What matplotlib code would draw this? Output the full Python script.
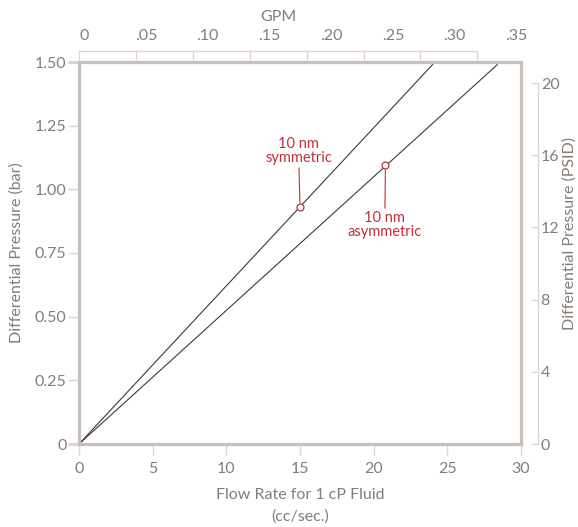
import matplotlib
matplotlib.use("Agg")
import matplotlib.pyplot as plt

plt.rcParams['font.family'] = ['Lato', 'DejaVu Sans']

# values
flow_sym = [0, 24.0]          # cc/sec
dp_sym = [0, 1.49]            # bar
flow_asym = [0, 28.4]
dp_asym = [0, 1.49]
sym_point = (15.0, 0.932)
asym_point = (20.8, 1.095)

bar_ticks = [0, 0.25, 0.50, 0.75, 1.00, 1.25, 1.50]
bar_labels = ['0', '0.25', '0.50', '0.75', '1.00', '1.25', '1.50']
flow_ticks = [0, 5, 10, 15, 20, 25, 30]
psi_ticks = [0, 4, 8, 12, 16, 20]
gpm_ticks = [0, 0.05, 0.10, 0.15, 0.20, 0.25, 0.30, 0.35]
gpm_labels = ['0', '.05', '.10', '.15', '.20', '.25', '.30', '.35']

TXT = '#857c76'
FRAME = '#c9bfb8'
LIGHT = '#dcd5cf'
RED = '#c4303a'
W, H = 578, 527

fig = plt.figure(figsize=(W / 100, H / 100), dpi=100)
ax = fig.add_axes([79 / W, 1 - 444 / H, 442 / W, 382 / H])
ax.set_xlim(0, 30)
ax.set_ylim(0, 1.5)
for s in ax.spines.values():
    s.set_color(FRAME)
    s.set_linewidth(2.3)

ax.set_xticks(flow_ticks)
ax.tick_params(axis='both', color=LIGHT, labelcolor=TXT, labelsize=11.5,
               length=8, width=1, direction='out')
ax.tick_params(axis='y', pad=1)
ax.tick_params(axis='x', pad=5)
ax.set_xlabel('Flow Rate for 1 cP Fluid\n(cc/sec.)', color=TXT, fontsize=11.5,
              linespacing=1.65, labelpad=8.5)
ax.set_ylabel('Differential Pressure (bar)', color=TXT, fontsize=11.5)
ax.yaxis.set_label_coords(-0.124, 0.5)

# curves
ax.plot(flow_sym, dp_sym, color='#3a3a3a', lw=0.8)
ax.plot(flow_asym, dp_asym, color='#3a3a3a', lw=0.8)

ax.annotate('10 nm\nsymmetric', xy=sym_point, xytext=(sym_point[0] - 0.1, 1.15),
            ha='center', va='center', color=RED, fontsize=10.5, linespacing=1.0,
            arrowprops=dict(arrowstyle='-', color=RED, lw=0.8, shrinkA=0, shrinkB=3))
ax.annotate('10 nm\nasymmetric', xy=asym_point, xytext=(asym_point[0] - 0.05, 0.86),
            ha='center', va='center', color=RED, fontsize=10.5, linespacing=1.0,
            arrowprops=dict(arrowstyle='-', color=RED, lw=0.8, shrinkA=0, shrinkB=3))
ax.plot(*sym_point, 'o', ms=5, mfc='white', mec=RED, mew=0.9, zorder=5)
ax.plot(*asym_point, 'o', ms=5, mfc='white', mec=RED, mew=0.9, zorder=5)

# right PSID axis (floating)
ax_r = ax.twinx()
ax_r.set_ylim(0, 20 * 1.5 / 1.4175)
for k in ['top', 'bottom', 'left']:
    ax_r.spines[k].set_visible(False)
ax_r.spines['right'].set_position(('outward', 12.2))
ax_r.spines['right'].set_bounds(0, 20)
ax_r.spines['right'].set_color(LIGHT)
ax_r.spines['right'].set_linewidth(0.9)
ax_r.set_yticks(psi_ticks)
ax_r.tick_params(axis='y', color=LIGHT, labelcolor=TXT, labelsize=11.5,
                 length=5, width=0.9, direction='in', pad=2)
ax_r.set_ylabel('Differential Pressure (PSID)', color=TXT, fontsize=11.5)
ax_r.yaxis.set_label_coords(1.094, 0.55)

# top GPM axis: tick marks
ax_t = ax.twiny()
ax_t.set_xlim(0, 0.05 * 442 / 56.9)
for k in ['bottom', 'left', 'right']:
    ax_t.spines[k].set_visible(False)
ax_t.spines['top'].set_position(('outward', 8))
ax_t.spines['top'].set_bounds(0, 0.35)
ax_t.spines['top'].set_color(LIGHT)
ax_t.spines['top'].set_linewidth(0.9)
ax_t.set_xticks(gpm_ticks)
ax_t.set_xticklabels([])
ax_t.tick_params(axis='x', color=LIGHT, length=6.5, width=0.9, direction='in')
ax_t.annotate('GPM', xy=(0.175, 1 - 17 / H), xycoords=('data', 'figure fraction'),
              ha='center', va='center', color=TXT, fontsize=11.5)

# top GPM axis: labels (placed as in the reference)
ax_l = ax.twiny()
ax_l.set_xlim(-0.00405, 0.3536)
for s in ax_l.spines.values():
    s.set_visible(False)
ax_l.set_xticks(gpm_ticks)
ax_l.set_xticklabels(gpm_labels)
ax_l.tick_params(axis='x', length=0, labelcolor=TXT, labelsize=11.5, pad=14)

# left bar ticks set last so the shared y axis keeps them
ax.set_yticks(bar_ticks)
ax.set_yticklabels(bar_labels)
ytk = ax.yaxis.get_major_ticks()
for t in (ytk[0], ytk[-1]):
    t.tick1line.set_color(FRAME)
    t.tick1line.set_markeredgewidth(2.3)

fig.savefig('out.png', dpi=100)
